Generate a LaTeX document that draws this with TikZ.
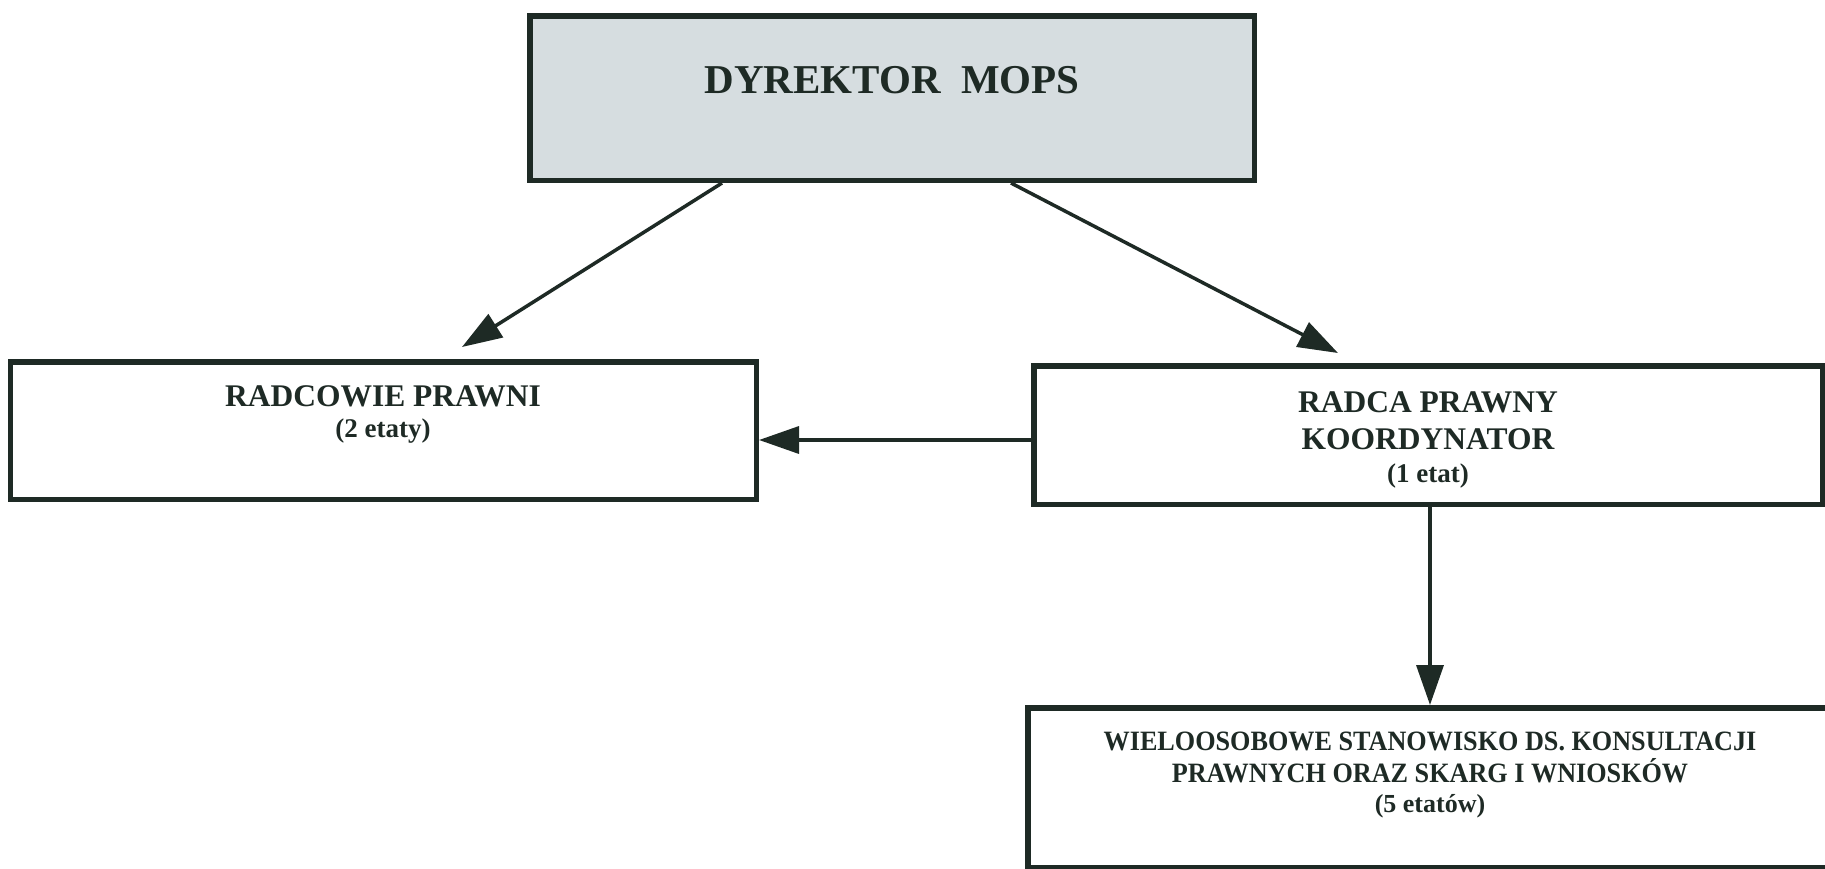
\documentclass[tikz,border=0pt]{standalone}
\usepackage{fontspec}
\setmainfont{Liberation Serif}
\usetikzlibrary{arrows.meta}
\definecolor{ink}{HTML}{1E2A25}
\definecolor{topfill}{HTML}{D6DDE0}
\tikzset{
  box/.style={draw=ink, line width=5.5pt, rectangle, inner sep=0pt},
  arr/.style={draw=ink, line width=3.5pt, -{Triangle[length=40pt,width=27pt]}},
  txt/.style={text=ink, inner sep=0pt, anchor=base, font=\bfseries},
}
\newcommand{\fs}[1]{\fontsize{#1}{#1}\selectfont}
\begin{document}
\begin{tikzpicture}[x=1pt,y=-1pt]
\fill[white] (0,0) rectangle (1825,868);
\useasboundingbox (0,0) rectangle (1825,868);

% boxes
\node[box, fill=topfill, minimum width=724.5pt, minimum height=164.5pt] (top) at (892,98) {};
\node[box, fill=white, minimum width=746pt, minimum height=137.5pt] (lb) at (383.25,430.5) {};
\node[box, fill=white, minimum width=788.5pt, minimum height=138.5pt] (rk) at (1428,435) {};
\node[box, fill=white, minimum width=804.5pt, minimum height=160pt] (wb) at (1430,787.75) {};

% texts
\node[txt] (ttop) at (892,93) {\fs{41}DYREKTOR\ \ MOPS};
\node[txt] (tl1) at (383,406) {\fs{31.5}RADCOWIE PRAWNI};
\node[txt] (tl2) at (383,437) {\fs{27}(2 etaty)};
\node[txt] (tr1) at (1428,412) {\fs{31.5}RADCA PRAWNY};
\node[txt] (tr2) at (1428,449) {\fs{31.5}KOORDYNATOR};
\node[txt] (tr3) at (1428,482) {\fs{27}(1 etat)};
\node[txt, xscale=0.935, transform shape] (tw1) at (1430,750) {\fs{28}WIELOOSOBOWE STANOWISKO DS. KONSULTACJI};
\node[txt, xscale=0.935, transform shape] (tw2) at (1430,782) {\fs{28}PRAWNYCH ORAZ SKARG I WNIOSKÓW};
\node[txt] (tw3) at (1430,812) {\fs{26}(5 etatów)};

% connector helper coordinates
\coordinate (s1) at (722,183);
\coordinate (e1) at (462,347);
\coordinate (s2) at (1011,183);
\coordinate (e2) at (1338,353);
\coordinate (h) at (0,440);
\coordinate (v) at (1430,0);

\draw[arr] (s1) -- (e1);
\draw[arr] (s2) -- (e2);
\draw[arr] (rk.west |- h) -- (lb.east |- h);
\draw[arr] (rk.south -| v) -- (wb.north -| v);
\end{tikzpicture}
\end{document}
